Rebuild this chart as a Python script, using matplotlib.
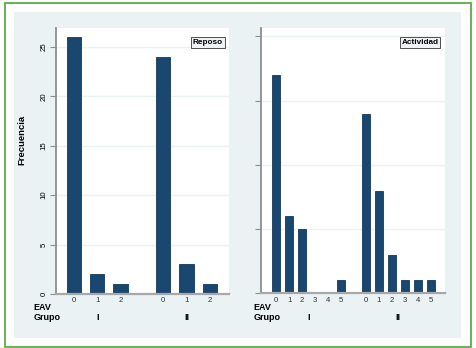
import numpy as np
import matplotlib
matplotlib.use("Agg")
import matplotlib.pyplot as plt
from matplotlib.patches import Rectangle
from matplotlib import transforms

plt.rcParams['font.family'] = ['Liberation Sans', 'DejaVu Sans']

# datos
grupos = ["I", "II"]
eav_reposo = ["0", "1", "2"]
reposo_I = [26, 2, 1]
reposo_II = [24, 3, 1]
eav_actividad = ["0", "1", "2", "3", "4", "5"]
actividad_I = [17, 6, 5, 0, 0, 1]
actividad_II = [14, 8, 3, 1, 1, 1]

W, H = 477, 348
bar_color = "#1a476f"
bg = "#eaf2f3"
axis_gray = "#8e8e8e"

fig = plt.figure(figsize=(W / 100, H / 100), dpi=100)
fig.patch.set_facecolor("white")


def px_rect(x0, y0, x1, y1):
    # pixel coords (origen arriba-izquierda) -> fraccion de figura
    return [x0 / W, 1 - y1 / H, (x1 - x0) / W, (y1 - y0) / H]


# marco verde y region gris (detras de los ejes)
fig.patches.append(Rectangle((5 / W, 1 - 347 / H), 466 / W, 344 / H, transform=fig.transFigure,
                             facecolor="white", edgecolor="#5aab48", lw=1.3, zorder=-2))
fig.patches.append(Rectangle((14 / W, 1 - 338 / H), 447 / W, 326 / H, transform=fig.transFigure,
                             facecolor=bg, edgecolor="none", zorder=-1))


def panel(rect, niveles, vals_I, vals_II, gap, xlim, ymax, label, show_ylabels):
    ax = fig.add_axes(rect)
    ax.set_facecolor("white")
    n = len(niveles)
    pos_I = np.arange(n)
    pos_II = np.arange(n) + n + gap
    ax.bar(pos_I, vals_I, width=0.61, color=bar_color, edgecolor="#13385a", lw=0.6, zorder=3)
    ax.bar(pos_II, vals_II, width=0.61, color=bar_color, edgecolor="#13385a", lw=0.6, zorder=3)
    ax.set_xlim(*xlim)
    ax.set_ylim(0, ymax)
    for s in ["top", "right"]:
        ax.spines[s].set_visible(False)
    ax.spines["left"].set_color(axis_gray)
    ax.spines["left"].set_linewidth(1.3)
    ax.spines["bottom"].set_color("#a8a8a8")
    ax.spines["bottom"].set_linewidth(1.6)
    ax.spines["bottom"].set_zorder(4)

    yt = np.arange(0, ymax, 5)
    ax.set_yticks(yt)
    for v in yt[1:]:
        ax.axhline(v, color=bg, lw=1.0, zorder=1)
    if show_ylabels:
        ax.set_yticklabels([str(int(v)) for v in yt], rotation=90, va="center", fontsize=5.6)
    else:
        ax.set_yticklabels([])
    ax.tick_params(axis="y", length=4, width=0.8, color=axis_gray, pad=2)

    ax.set_xticks(np.concatenate([pos_I, pos_II]))
    ax.set_xticklabels(list(niveles) * 2, fontsize=5.6, color="#333333")
    ax.tick_params(axis="x", length=0, pad=2.5)

    tr = transforms.blended_transform_factory(ax.transData, fig.transFigure)
    ax.text(pos_I.mean(), 1 - 318 / H, grupos[0], transform=tr, ha="center", va="center",
            fontsize=6.5, fontweight="bold")
    ax.text(pos_II.mean(), 1 - 318 / H, grupos[1], transform=tr, ha="center", va="center",
            fontsize=6.5, fontweight="bold")

    ax.text(0.965, 0.945, label, transform=ax.transAxes, ha="right", va="center",
            fontsize=5.9, fontweight="bold",
            bbox=dict(boxstyle="square,pad=0.2", facecolor="#eef2f4", edgecolor="#333333", lw=0.6))
    return ax


ax1 = panel(px_rect(56, 28, 229, 294), eav_reposo, reposo_I, reposo_II, 0.81,
            (-0.76, 6.63), 26.9, "Reposo", True)
ax2 = panel(px_rect(261.3, 28, 445.3, 293.3), eav_actividad, actividad_I, actividad_II, 0.87,
            (-1.13, 12.98), 20.66, "Actividad", False)

for x0 in [33.3, 253.7]:
    fig.text(x0 / W, 1 - 307 / H, "EAV", ha="left", va="center", fontsize=6.5, fontweight="bold")
    fig.text(x0 / W, 1 - 318 / H, "Grupo", ha="left", va="center", fontsize=6.5, fontweight="bold")

fig.text(22 / W, 1 - 140 / H, "Frecuencia", rotation=90, ha="center", va="center",
         fontsize=6.8, fontweight="bold")

fig.savefig("out.png", dpi=100, facecolor="white")
